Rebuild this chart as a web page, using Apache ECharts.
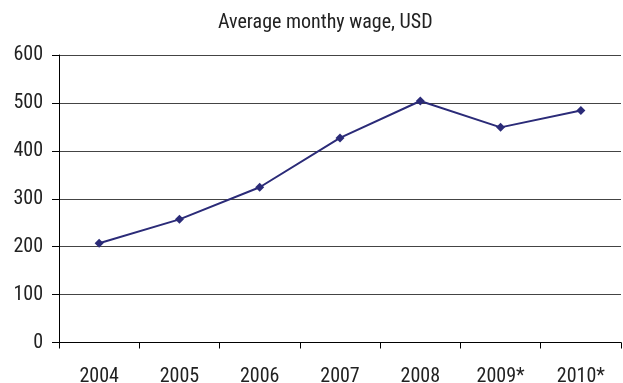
<!DOCTYPE html>
<html><head><meta charset="utf-8">
<script src="https://cdn.jsdelivr.net/npm/echarts@6/dist/echarts.min.js"></script>
<style>html,body{margin:0;padding:0;background:#fff}#c{width:623px;height:383px}</style>
</head><body><div id="c"></div>
<script>
const categories = ['2004','2005','2006','2007','2008','2009*','2010*'];
const wages = [207, 257, 324, 427, 504, 449, 484];
const yTicks = [0, 100, 200, 300, 400, 500, 600];
const titleText = 'Average monthy wage, USD';
const FONT = '"Roboto Condensed", "DejaVu Sans Condensed", sans-serif';
const chart = echarts.init(document.getElementById('c'), null, {renderer:'canvas'});
chart.setOption({
  animation:false,
  title:{text:titleText,left:213,top:8,textStyle:{fontFamily:FONT,fontSize:20,fontWeight:'normal',color:'#222'}},
  grid:{left:59,right:2,top:55,bottom:40.5,containLabel:false,outerBoundsMode:'none'},
  xAxis:{type:'category',data:categories,boundaryGap:true,
    axisLine:{lineStyle:{color:'#000',width:1}},
    axisTick:{show:true,length:6,inside:false,lineStyle:{color:'#000'}},
    axisLabel:{fontFamily:FONT,fontSize:20,color:'#222',margin:24},
    splitLine:{show:false}},
  yAxis:{type:'value',min:yTicks[0],max:yTicks[yTicks.length-1],interval:100,
    axisLine:{show:true,lineStyle:{color:'#000',width:1}},
    axisTick:{show:true,length:7,lineStyle:{color:'#000'}},
    axisLabel:{fontFamily:FONT,fontSize:20,color:'#222',margin:16},
    splitLine:{show:true,lineStyle:{color:'#444',width:1}}},
  series:[{type:'line',data:wages,symbol:'diamond',symbolSize:9,
    lineStyle:{color:'#2b2b78',width:2},itemStyle:{color:'#2b2b78'}}]
});
</script></body></html>
